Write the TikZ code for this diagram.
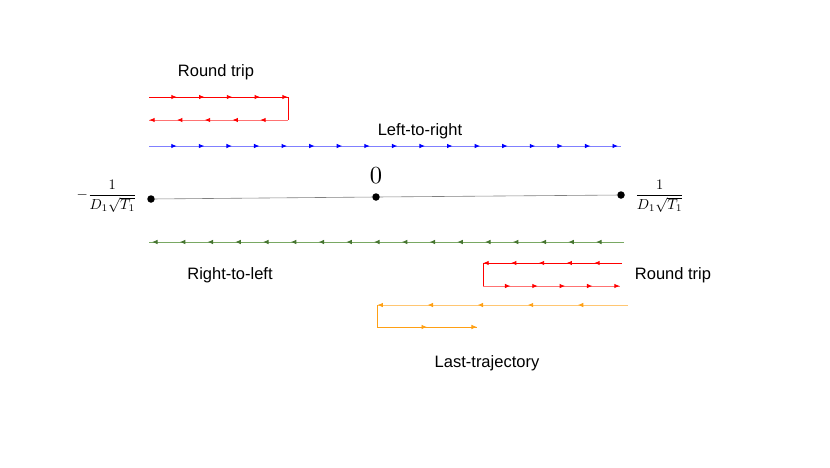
\documentclass[tikz,border=0pt]{standalone}
\usepackage{amsmath,amssymb}
\usepackage{fontspec}
\setsansfont{Liberation Sans}
\usetikzlibrary{arrows.meta,decorations.markings}
\definecolor{trgreen}{RGB}{88,146,60}
\definecolor{trorange}{RGB}{255,160,20}

\begin{document}
\begin{tikzpicture}[x=1pt,y=-1pt,>=Latex,
lbl/.style={font=\sffamily\fontsize{16.5}{19}\selectfont},
arrs/.style 2 args={postaction={decorate,decoration={markings,
  mark=between positions 1/#1 and 1 step {1/#1-0.0004} with {\arrow[#2]{Latex[length=5.5pt,width=4.6pt]}}}}},
traj/.style={line width=0.95pt},
dot/.style={circle, fill=black, inner sep=0pt, minimum size=7.5pt},
mathlbl/.style={scale=1.45, transform shape}]
\useasboundingbox (0,0) rectangle (830,467);
% round trip (left)
\coordinate (la) at (149,97);
\coordinate (lb) at (288,97);
\coordinate (lc) at (288,120);
\coordinate (ld) at (149,120);
\draw[traj, red, arrs={5}{red}] (la) -- (lb);
\draw[traj, red] (lb) -- (lc);
\draw[traj, red!55, arrs={5}{red}] (lc) -- (ld);
\node[lbl] (rtl) at (216,72) {Round trip};
% left-to-right
\coordinate (ba) at (149,146);
\coordinate (bb) at (621,146);
\draw[traj, blue!50, arrs={17}{blue}] (ba) -- (bb);
\node[lbl] (ltr) at (420,131) {Left-to-right};
% interval
\node[dot] (xl) at (151,199) {};
\node[dot] (x0) at (376,197) {};
\node[dot] (xr) at (621,195) {};
\draw[gray, line width=0.6pt] (xl) -- (x0) -- (xr);
\node[scale=2.45, transform shape] (zero) at (376,175.5) {$0$};
\node[mathlbl, anchor=east] (left) at (142,196) {$-\dfrac{1}{D_1\sqrt{T_1}}$};
\node[mathlbl, anchor=west] (right) at (630,196) {$\dfrac{1}{D_1\sqrt{T_1}}$};
% right-to-left
\coordinate (ga) at (624,242);
\coordinate (gb) at (149,242);
\draw[traj, trgreen!80, arrs={17}{trgreen!80!black}] (ga) -- (gb);
\node[lbl] (rtol) at (230,275) {Right-to-left};
% round trip (right)
\coordinate (ra) at (622,263);
\coordinate (rb) at (483,263);
\coordinate (rc) at (483,286);
\coordinate (rd) at (620,286);
\draw[traj, red, arrs={5}{red}] (ra) -- (rb);
\draw[traj, red] (rb) -- (rc);
\draw[traj, red!55, arrs={5}{red}] (rc) -- (rd);
\node[lbl] (rtr) at (673,275) {Round trip};
% last trajectory
\coordinate (oa) at (628,305);
\coordinate (ob) at (377,305);
\coordinate (oc) at (377,327);
\coordinate (od) at (477,327);
\draw[traj, trorange!60, arrs={5}{trorange}] (oa) -- (ob);
\draw[traj, trorange] (ob) -- (oc);
\draw[traj, trorange, arrs={2}{trorange}] (oc) -- (od);
\node[lbl] (last) at (487,363) {Last-trajectory};
\end{tikzpicture}
\end{document}
